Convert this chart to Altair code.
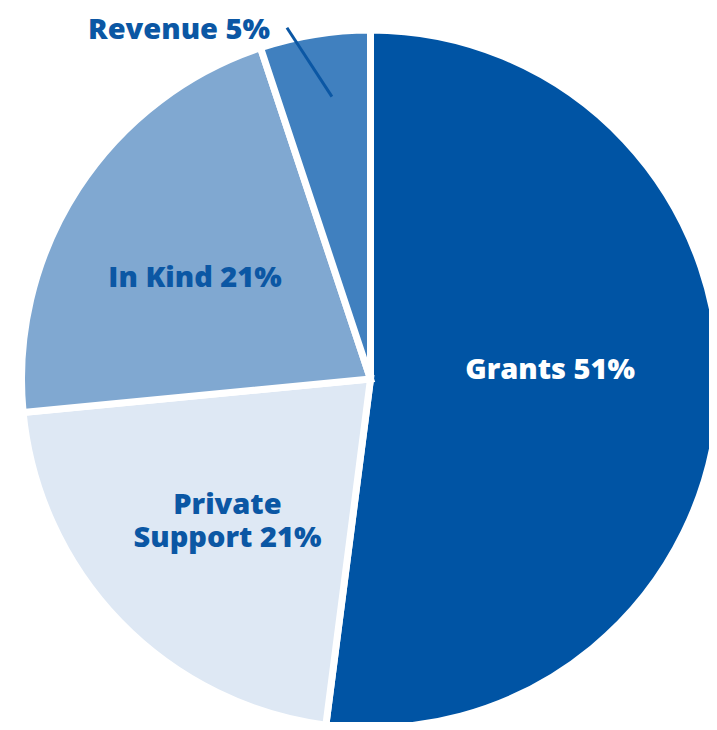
import math
import altair as alt
import pandas as pd

categories = ["Grants", "Private Support", "In Kind", "Revenue"]
values = [51, 21, 21, 5]
labels = ["Grants 51%", "Private\nSupport 21%", "In Kind 21%", "Revenue 5%"]
colors = ["#0054A4", "#DEE8F4", "#80A8D1", "#4080BF"]
order = [1, 2, 3, 4]

TEXT_BLUE = "#0B57A4"
FONT = "Open Sans"
FS = 29
CX, CY, R = 362.5, 371, 349

df = pd.DataFrame({"category": categories, "value": values, "label": labels, "order": order})

# leader line for the Revenue slice, from its mid-angle
total = sum(values)
start = sum(values[:3]) / total * 360
mid = start + values[3] / total * 360 / 2
a1, a2 = math.radians(mid + 1.4), math.radians(mid - 4.2)
lead = pd.DataFrame({
    "x": [CX + 285 * math.sin(a1)], "y": [CY - 285 * math.cos(a1)],
    "x2": [CX + 361 * math.sin(a2)], "y2": [CY - 361 * math.cos(a2)],
})

base = alt.Chart(df).encode(
    theta=alt.Theta("value:Q", stack=True),
    order=alt.Order("order:Q"),
    x=alt.value(CX),
    y=alt.value(CY),
)

pie = base.mark_arc(outerRadius=R, stroke="white", strokeWidth=7).encode(
    color=alt.Color("category:N", scale=alt.Scale(domain=categories, range=colors), legend=None),
)


def label_layer(cat, radius, dx, dy, color, align="center"):
    return base.transform_calculate(
        lab=f"datum.category == '{cat}' ? datum.label : ''"
    ).mark_text(radius=radius, dx=dx, dy=dy, font=FONT, fontWeight=800, fontSize=FS,
                color=color, lineBreak="\n", align=align, baseline="middle",
                lineHeight=33).encode(text="lab:N")


grants = label_layer("Grants", 182, -2, -21, "white")
private = label_layer("Private Support", 195, -3, -10, TEXT_BLUE)
inkind = label_layer("In Kind", 195, -12, 5, TEXT_BLUE)
revenue = label_layer("Revenue", 360, -43, 6, TEXT_BLUE, align="right")

leader = alt.Chart(lead).mark_rule(color="#0B57A4", strokeWidth=3).encode(
    x=alt.X("x:Q", scale=None), y=alt.Y("y:Q", scale=None),
    x2="x2:Q", y2="y2:Q",
)

chart = alt.layer(pie, grants, private, inkind, revenue, leader).properties(
    width=701, height=714, padding=0, autosize=alt.AutoSizeParams(type="none"),
    background="white",
).configure_view(stroke=None)

chart.save("out.html", embed_options={"renderer": "svg", "actions": False})
